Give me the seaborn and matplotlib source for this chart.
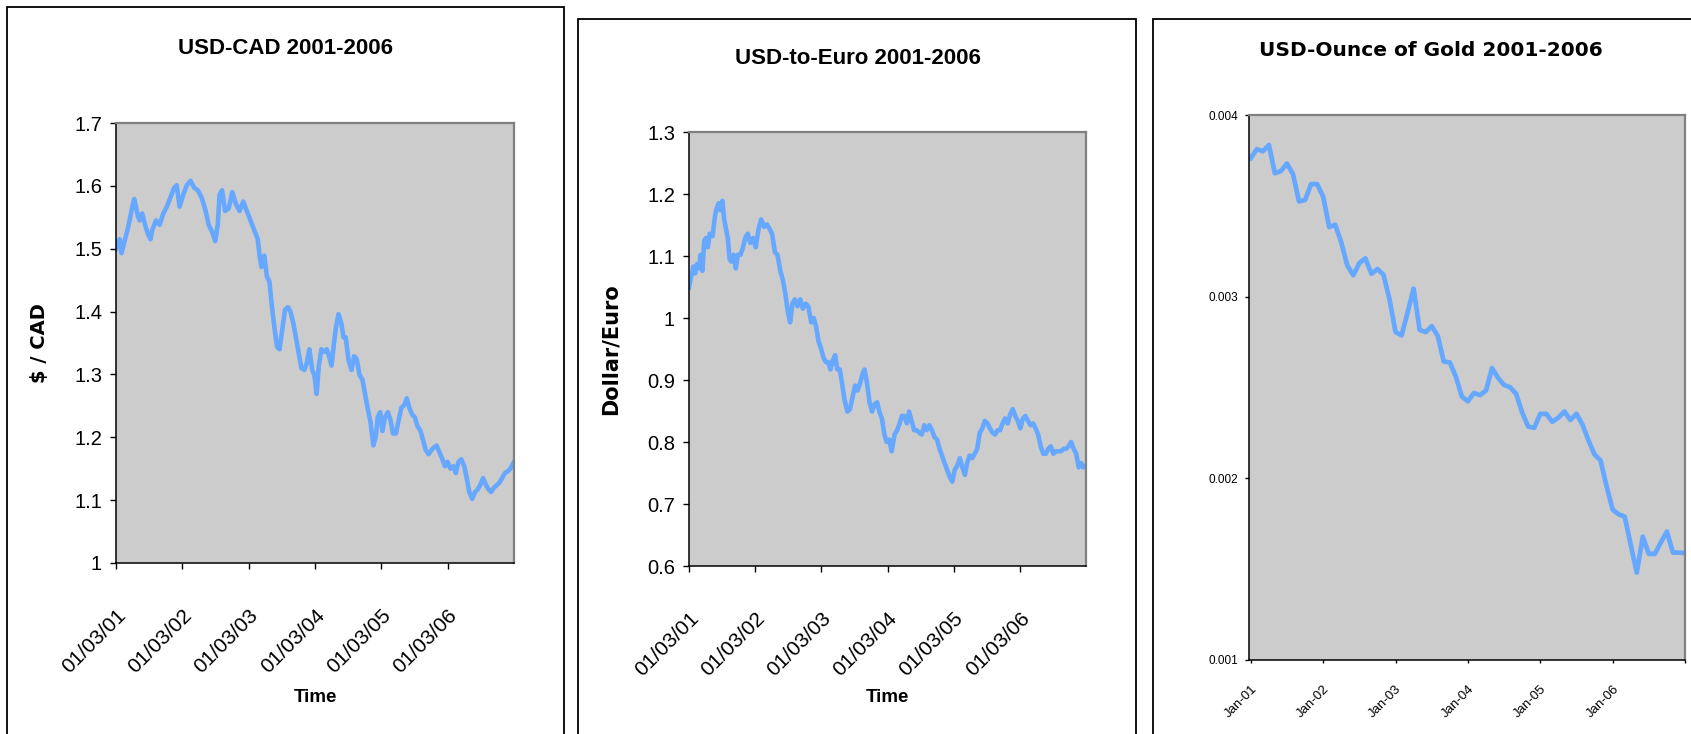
import numpy as np
import seaborn as sns
import matplotlib.pyplot as plt
from matplotlib.patches import Rectangle
from matplotlib.ticker import FormatStrFormatter

# USD-CAD; day 0 = 01/03/01
cad_day = [0, 20, 30, 50, 70, 90, 100, 110, 120, 130,
           144, 160, 176, 190, 200, 220, 240, 260, 280, 300,
           320, 334, 350, 370, 390, 410, 430, 450, 470, 490,
           510, 530, 546, 560, 570, 584, 600, 620, 640, 660,
           680, 700, 720, 740, 760, 780, 790, 800, 816, 830,
           844, 860, 872, 886, 900, 916, 930, 946, 960, 976,
           990, 1004, 1020, 1036, 1050, 1064, 1080, 1092, 1104, 1116,
           1130, 1144, 1160, 1172, 1186, 1200, 1210, 1224, 1240, 1252,
           1264, 1280, 1296, 1310, 1324, 1340, 1356, 1370, 1384, 1400,
           1416, 1430, 1440, 1454, 1466, 1480, 1496, 1510, 1524, 1540,
           1554, 1570, 1586, 1600, 1614, 1630, 1644, 1660, 1676, 1690,
           1704, 1720, 1736, 1750, 1764, 1780, 1796, 1810, 1824, 1840,
           1856, 1870, 1884, 1900, 1916, 1930, 1944, 1960, 1976, 1990,
           2004, 2020, 2036, 2050, 2064, 2080, 2096, 2110, 2124, 2140,
           2156, 2170, 2190]
cad_rate = [1.500, 1.515, 1.493, 1.515, 1.538, 1.567, 1.579, 1.567, 1.552, 1.545,
            1.556, 1.538, 1.523, 1.515, 1.530, 1.545, 1.538, 1.556, 1.567, 1.582,
            1.597, 1.601, 1.567, 1.586, 1.601, 1.608, 1.597, 1.593, 1.582, 1.564,
            1.538, 1.526, 1.512, 1.538, 1.586, 1.593, 1.560, 1.564, 1.590, 1.571,
            1.560, 1.575, 1.560, 1.545, 1.530, 1.515, 1.489, 1.471, 1.489, 1.456,
            1.448, 1.403, 1.374, 1.344, 1.340, 1.374, 1.403, 1.407, 1.400, 1.381,
            1.359, 1.336, 1.310, 1.307, 1.318, 1.340, 1.307, 1.299, 1.269, 1.314,
            1.340, 1.336, 1.340, 1.329, 1.314, 1.351, 1.374, 1.396, 1.381, 1.359,
            1.359, 1.322, 1.307, 1.329, 1.325, 1.299, 1.292, 1.269, 1.247, 1.225,
            1.187, 1.202, 1.232, 1.240, 1.210, 1.232, 1.240, 1.228, 1.206, 1.206,
            1.225, 1.247, 1.251, 1.262, 1.247, 1.236, 1.232, 1.217, 1.210, 1.195,
            1.180, 1.173, 1.180, 1.184, 1.187, 1.176, 1.165, 1.154, 1.161, 1.150,
            1.154, 1.143, 1.161, 1.165, 1.154, 1.135, 1.113, 1.102, 1.113, 1.117,
            1.124, 1.135, 1.124, 1.117, 1.113, 1.120, 1.124, 1.128, 1.135, 1.143,
            1.146, 1.150, 1.161]

# USD-to-Euro
euro_day = [0, 10, 24, 34, 44, 54, 64, 74, 84, 94,
            104, 114, 130, 144, 154, 164, 174, 184, 194, 204,
            214, 224, 234, 246, 258, 270, 284, 298, 310, 324,
            338, 354, 368, 384, 398, 414, 430, 444, 458, 474,
            488, 504, 518, 530, 544, 558, 570, 584, 598, 614,
            628, 644, 658, 674, 688, 702, 714, 728, 742, 754,
            768, 780, 794, 806, 818, 832, 844, 858, 874, 888,
            902, 916, 930, 944, 958, 968, 982, 996, 1010, 1024,
            1038, 1050, 1064, 1078, 1090, 1104, 1118, 1134, 1148, 1162,
            1174, 1188, 1202, 1214, 1228, 1242, 1256, 1270, 1284, 1298,
            1312, 1326, 1340, 1354, 1368, 1382, 1396, 1410, 1424, 1438,
            1452, 1466, 1480, 1494, 1508, 1522, 1534, 1548, 1562, 1576,
            1590, 1604, 1618, 1632, 1646, 1660, 1674, 1688, 1702, 1716,
            1730, 1744, 1758, 1772, 1786, 1800, 1814, 1828, 1842, 1856,
            1870, 1884, 1898, 1912, 1926, 1940, 1954, 1968, 1982, 1996,
            2010, 2024, 2038, 2052, 2066, 2080, 2094, 2108, 2122, 2136,
            2150, 2164, 2174, 2188]
euro_rate = [1.049, 1.064, 1.083, 1.072, 1.087, 1.080, 1.102, 1.076, 1.125, 1.129,
             1.114, 1.136, 1.132, 1.166, 1.178, 1.185, 1.174, 1.189, 1.159, 1.144,
             1.129, 1.095, 1.091, 1.102, 1.080, 1.102, 1.102, 1.114, 1.129, 1.136,
             1.121, 1.129, 1.114, 1.144, 1.159, 1.147, 1.151, 1.144, 1.136, 1.106,
             1.102, 1.076, 1.061, 1.042, 1.012, 0.993, 1.023, 1.030, 1.019, 1.030,
             1.015, 1.023, 1.019, 0.993, 1.000, 0.985, 0.963, 0.951, 0.936, 0.929,
             0.929, 0.917, 0.932, 0.940, 0.917, 0.917, 0.895, 0.868, 0.849, 0.853,
             0.872, 0.891, 0.883, 0.895, 0.910, 0.917, 0.895, 0.864, 0.849, 0.861,
             0.864, 0.849, 0.838, 0.812, 0.800, 0.804, 0.785, 0.812, 0.819, 0.830,
             0.842, 0.842, 0.830, 0.849, 0.834, 0.819, 0.819, 0.815, 0.812, 0.827,
             0.819, 0.827, 0.819, 0.808, 0.804, 0.789, 0.778, 0.766, 0.755, 0.744,
             0.736, 0.755, 0.762, 0.774, 0.759, 0.747, 0.766, 0.778, 0.774, 0.781,
             0.789, 0.815, 0.822, 0.834, 0.830, 0.822, 0.815, 0.812, 0.819, 0.819,
             0.830, 0.838, 0.830, 0.845, 0.853, 0.842, 0.834, 0.822, 0.838, 0.842,
             0.834, 0.827, 0.830, 0.822, 0.812, 0.793, 0.781, 0.781, 0.789, 0.793,
             0.781, 0.785, 0.785, 0.785, 0.789, 0.789, 0.793, 0.800, 0.789, 0.781,
             0.759, 0.766, 0.759, 0.762]

# USD per ounce of gold, monthly Jan-01 .. Jan-07
gold = [0.003763, 0.003812, 0.003800, 0.003835, 0.003679, 0.003692, 0.003733, 0.003674, 0.003524, 0.003532,
        0.003620, 0.003620, 0.003550, 0.003383, 0.003396, 0.003298, 0.003172, 0.003118, 0.003185, 0.003211,
        0.003126, 0.003152, 0.003121, 0.002985, 0.002805, 0.002787, 0.002913, 0.003044, 0.002817, 0.002805,
        0.002838, 0.002784, 0.002643, 0.002638, 0.002560, 0.002450, 0.002424, 0.002470, 0.002458, 0.002483,
        0.002607, 0.002553, 0.002514, 0.002501, 0.002465, 0.002362, 0.002285, 0.002278, 0.002355, 0.002355,
        0.002311, 0.002334, 0.002368, 0.002321, 0.002355, 0.002296, 0.002208, 0.002131, 0.002098, 0.001956,
        0.001828, 0.001802, 0.001789, 0.001635, 0.001481, 0.001679, 0.001584, 0.001584, 0.001648, 0.001707,
        0.001591, 0.001591, 0.001589]

year_ticks = [0, 365, 730, 1095, 1460, 1825]
year_labels = ['01/03/01', '01/03/02', '01/03/03', '01/03/04', '01/03/05', '01/03/06']
gold_ticks = [0, 12, 24, 36, 48, 60, 72]
gold_labels = ['Jan-01', 'Jan-02', 'Jan-03', 'Jan-04', 'Jan-05', 'Jan-06', '']

LINE = '#66A8FF'
FACE = '#CCCCCC'
W, H = 1691, 734

plt.rcParams['font.family'] = ['Liberation Sans', 'DejaVu Sans']
fig = plt.figure(figsize=(W / 100, H / 100), dpi=100)


def box(l, t, r, b):
    # pixel box -> figure fraction
    return [l / W, 1 - b / H, (r - l) / W, (b - t) / H]


def style(ax):
    ax.set_facecolor(FACE)
    for s in ['top', 'right']:
        ax.spines[s].set_color('#808080')
        ax.spines[s].set_linewidth(1.6)
    for s in ['left', 'bottom']:
        ax.spines[s].set_color('black')
        ax.spines[s].set_linewidth(1.1)
    ax.tick_params(direction='out', color='black', width=1)


# chart frames (Excel chart objects)
for l, t, r in [(7, 7, 564), (578, 19, 1136), (1153, 19, 1760)]:
    fig.add_artist(Rectangle((l / W, -0.1), (r - l) / W, 1.1 - t / H,
                             transform=fig.transFigure, fill=False,
                             edgecolor='black', linewidth=1.3))


def fx_panel(rect, days, rate, ylim, ylabel, ylabel_size, title, title_xy):
    ax = fig.add_axes(rect)
    sns.lineplot(x=days, y=rate, ax=ax, color=LINE, linewidth=3.3, estimator=None)
    style(ax)
    ax.set_xlim(0, 2190)
    ax.set_ylim(*ylim)
    ax.set_yticks(np.round(np.arange(ylim[0], ylim[1] + 0.01, 0.1), 1))
    ax.yaxis.set_major_formatter(FormatStrFormatter('%g'))
    ax.tick_params(axis='y', labelsize=14.5, length=4, pad=6)
    ax.set_xticks(year_ticks, year_labels, rotation=45, ha='right', va='top',
                  rotation_mode='anchor', fontsize=15)
    ax.tick_params(axis='x', length=4.5, pad=26)
    ax.set_ylabel(ylabel, fontsize=ylabel_size, fontweight='bold', family='DejaVu Sans', va='center')
    ax.set_xlabel('Time', fontsize=13.5, fontweight='bold', va='center')
    fig.text(title_xy[0] / W, 1 - title_xy[1] / H, title, ha='center', va='center',
             fontsize=16, fontweight='bold')
    return ax


ax1 = fx_panel(box(116, 123, 514, 563), cad_day, cad_rate, (1.0, 1.7),
               '$ / CAD', 14, 'USD-CAD 2001-2006', (285, 48))
ax1.yaxis.set_label_coords((40 - 116) / 398, 0.5)
ax1.xaxis.set_label_coords(0.5, (563 - 698) / 440)

ax2 = fx_panel(box(689, 132, 1086, 566), euro_day, euro_rate, (0.6, 1.3),
               'Dollar/Euro', 15, 'USD-to-Euro 2001-2006', (858, 59))
ax2.yaxis.set_label_coords((611 - 689) / 397, 0.5)
ax2.xaxis.set_label_coords(0.5, (566 - 698) / 434)

# gold panel
ax3 = fig.add_axes(box(1249, 115, 1685, 660))
sns.lineplot(x=np.arange(len(gold)), y=gold, ax=ax3, color=LINE, linewidth=3.4, estimator=None)
style(ax3)
ax3.set_xlim(-0.3, 72)
ax3.set_ylim(0.001, 0.004)
ax3.set_yticks([0.001, 0.002, 0.003, 0.004], ['0.001', '0.002', '0.003', '0.004'])
ax3.tick_params(axis='y', labelsize=8.5, length=3, pad=5)
ax3.set_xticks(gold_ticks, gold_labels, rotation=45, ha='right', va='top',
               rotation_mode='anchor', fontsize=9.5)
ax3.tick_params(axis='x', length=2.5, pad=14)
ax3.set_xlabel('')
ax3.set_ylabel('')
fig.text(1431 / W, 1 - 51 / H, 'USD-Ounce of Gold 2001-2006', ha='center', va='center',
         fontsize=14.5, fontweight='bold', family='DejaVu Sans')

fig.savefig('out.png', dpi=100, facecolor='white')
